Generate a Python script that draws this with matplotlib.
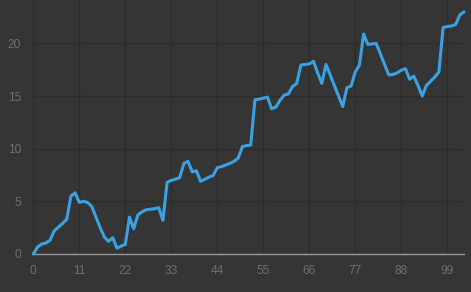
"""
Dark-theme line chart of a cumulative series (104 points).
"""

import matplotlib
matplotlib.use("Agg")
import matplotlib.pyplot as plt
import numpy as np

# Series values (index 0..103)
values = [
    0.0, 0.65, 0.95, 1.05, 1.3, 2.2, 2.55, 2.9, 3.3, 5.5,
    5.8, 4.9, 5.0, 4.9, 4.5, 3.5, 2.5, 1.6, 1.2, 1.55,
    0.55, 0.75, 0.9, 3.5, 2.4, 3.7, 4.0, 4.2, 4.25, 4.3,
    4.4, 3.2, 6.8, 7.0, 7.1, 7.25, 8.6, 8.8, 7.8, 7.9,
    6.9, 7.1, 7.3, 7.45, 8.2, 8.3, 8.45, 8.6, 8.8, 9.1,
    10.2, 10.3, 10.35, 14.65, 14.7, 14.8, 14.9, 13.8, 13.95, 14.6,
    15.1, 15.2, 15.9, 16.2, 17.95, 18.0, 18.05, 18.3, 17.2, 16.2,
    18.0, 17.0, 16.0, 15.0, 14.0, 15.8, 15.95, 17.3, 17.95, 20.9,
    19.9, 19.95, 20.0, 19.0, 18.0, 17.0, 17.05, 17.2, 17.45, 17.6,
    16.6, 16.9, 16.0, 15.0, 16.0, 16.4, 16.8, 17.3, 21.5, 21.6,
    21.65, 21.8, 22.7, 23.0,
]
x_ticks = list(range(0, 104, 11))
y_ticks = [0, 5, 10, 15, 20]

BG = "#353535"
GRID = "#2c2c2c"
TEXT = "#6e6e6e"
LINE = "#3ba1e3"

plt.rcParams["font.family"] = ["Liberation Sans", "DejaVu Sans"]

fig = plt.figure(figsize=(4.71, 2.92), dpi=100)
fig.patch.set_facecolor(BG)
ax = fig.add_axes([33.3 / 471, 38 / 292, (464 - 33.3) / 471, 254 / 292])
ax.set_facecolor(BG)

x = np.arange(len(values))
ax.plot(x, values, color=LINE, lw=2.2, solid_joinstyle="round",
        solid_capstyle="round", clip_on=False, zorder=3)

ax.set_xlim(0, len(values) - 1)
ax.set_ylim(0, 254 / 10.53)
ax.set_xticks(x_ticks)
ax.set_yticks(y_ticks)
ax.grid(True, color=GRID, lw=1)
ax.set_axisbelow(True)

for side in ["top", "right", "left"]:
    ax.spines[side].set_visible(False)
ax.spines["bottom"].set_color("#9a9a9a")
ax.spines["bottom"].set_linewidth(1)

ax.tick_params(axis="both", length=0, colors=TEXT, labelsize=8.6)
ax.tick_params(axis="x", pad=8)
ax.tick_params(axis="y", pad=9)

fig.savefig("out.png", dpi=100, facecolor=BG)
